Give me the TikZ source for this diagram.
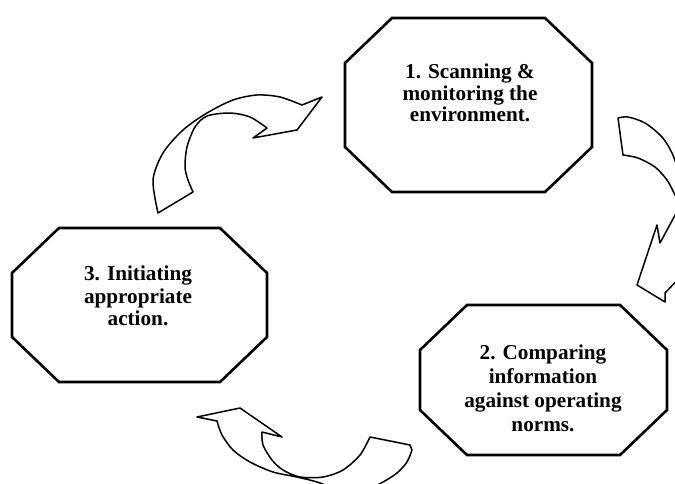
\documentclass[tikz,border=0pt]{standalone}
\usepackage{fontspec}
\setmainfont{Liberation Serif}

\begin{document}
\begin{tikzpicture}[
        x=1pt, y=-1pt,
        phase/.style={rectangle, inner sep=0pt, outer sep=0pt},
        octline/.style={draw, line width=2.6pt, line join=miter},
        phasetext/.style={align=center, font=\bfseries\fontsize{21.2}{#1}\selectfont},
        turn/.style={draw, fill=white, line width=1.5pt, line join=round}
    ]
    \useasboundingbox (0,0) rectangle (675,483);
    \clip (0,0) rectangle (675,483);

    % Phases
    \node[phase, minimum width=247pt, minimum height=174pt] (scan) at (468.5,105) {};
    \node[phase, minimum width=247pt, minimum height=150pt] (compare) at (543.5,380) {};
    \node[phase, minimum width=255pt, minimum height=154pt] (act) at (139.5,305) {};

    % Octagon outlines
    \foreach \n in {scan, compare, act}
        \draw[octline] ([xshift=47pt]\n.north west) -- ([xshift=-47pt]\n.north east)
            -- ([yshift=-45pt]\n.north east) -- ([yshift=45pt]\n.south east)
            -- ([xshift=-47pt]\n.south east) -- ([xshift=47pt]\n.south west)
            -- ([yshift=45pt]\n.south west) -- ([yshift=-45pt]\n.north west) -- cycle;

    % Texts
    \node[phasetext=21.5] (scantxt) at (470,93) {1. Scanning \&\\monitoring the\\environment.};
    \node[phasetext=24] (comparetxt) at (543,388) {2. Comparing\\information\\against operating\\norms.};
    \node[phasetext=22.5] (acttxt) at (138,296) {3. Initiating\\appropriate\\action.};

    % Turning arrows
    \draw[turn] plot[smooth] coordinates {(158,213) (153,180) (163,153) (183,130) (207,113) (233,100) (257,95) (280,97) (302,105)}
        -- (322,97) -- (297,130) -- (253,138) -- (267,128)
        -- plot[smooth] coordinates {(267,128) (250,117) (230,113) (207,116) (195,127) (187,147) (185,167) (188,180) (193,192)}
        -- cycle;
    \draw[turn] plot[smooth] coordinates {(618,118) (628,117) (645,123) (662,137) (672,153) (680,175)}
        -- (695,230) -- (685,272) -- (665,293) -- (665,302) -- (637,285) -- (657,225) -- (660,243) -- (680,206)
        -- plot[smooth] coordinates {(680,206) (675,195) (667,180) (655,167) (638,158) (623,155)}
        -- cycle;
    \draw[turn] (217,421) -- (197,417) -- (240,408) -- (282,437) -- (262,432)
        -- plot[smooth] coordinates {(262,432) (263,445) (272,460) (283,470) (300,477) (323,477) (343,470) (360,455) (370,437)}
        -- (410,445) -- (412,450)
        -- plot[smooth] coordinates {(412,450) (407,462) (397,473) (383,482) (365,490) (340,490) (317,482) (297,477) (273,472) (250,462) (233,450) (222,435) (217,421)}
        -- cycle;
\end{tikzpicture}
\end{document}
